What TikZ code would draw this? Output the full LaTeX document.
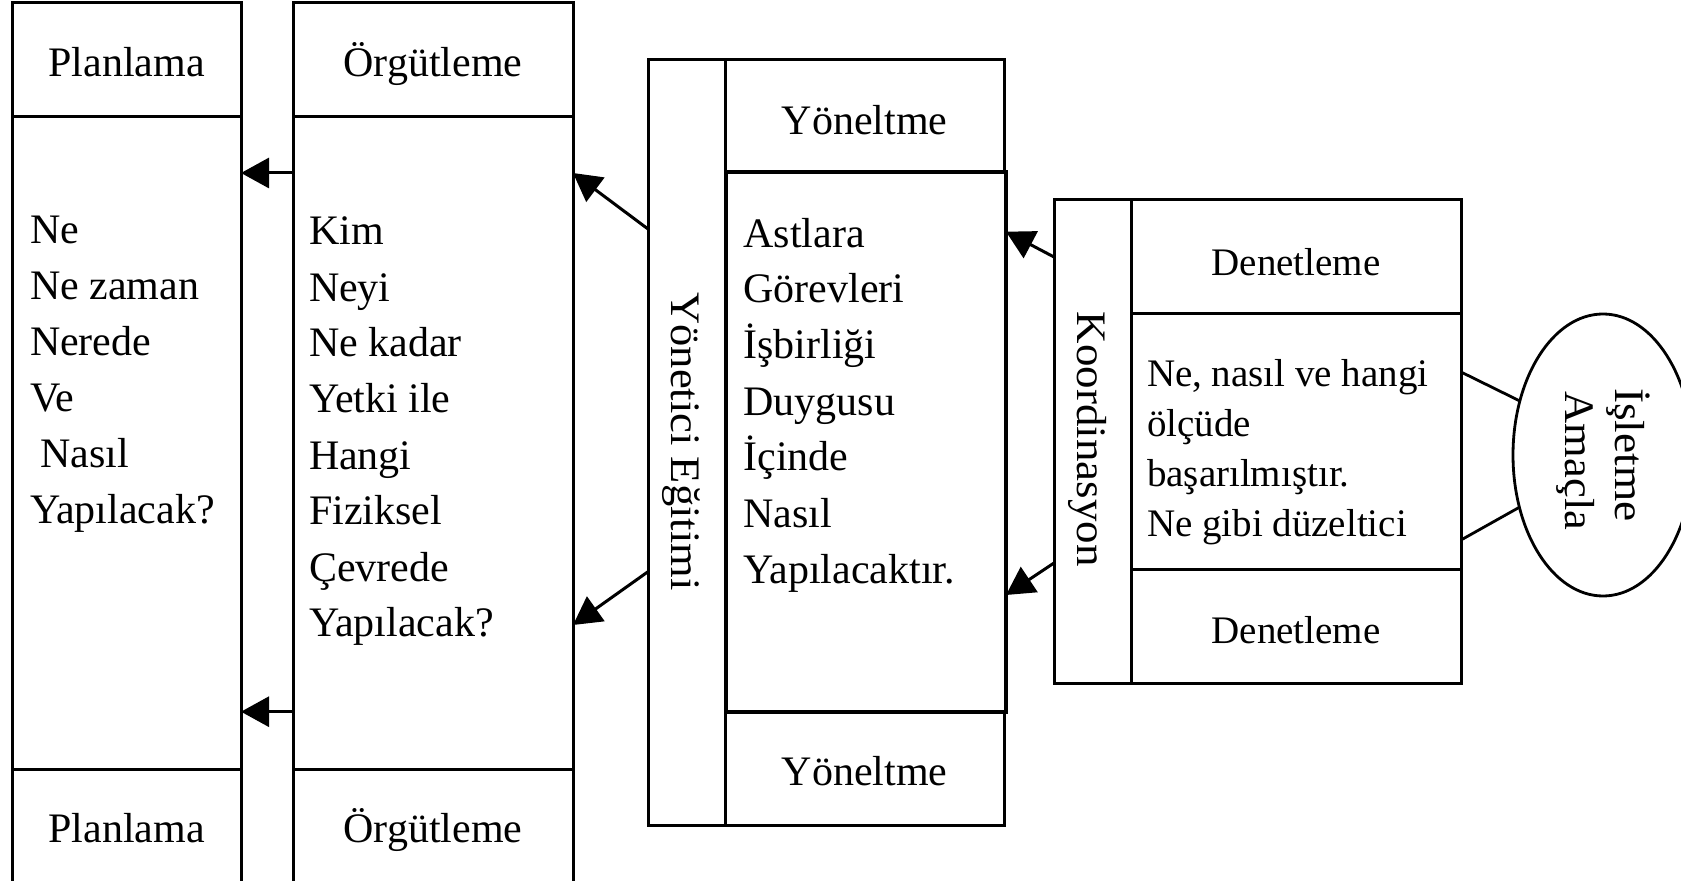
\documentclass[tikz,border=0pt]{standalone}
\usepackage{fontspec}
\usepackage{graphicx}
\setmainfont{Liberation Serif}
\usetikzlibrary{arrows.meta,shapes.geometric}
\begin{document}
\begin{tikzpicture}[x=0.5pt,y=-0.5pt,
  cell/.style={draw, line width=1.5pt, rectangle, inner sep=0pt, outer sep=0pt},
  bigtxt/.style={font=\fontsize{21}{28}\selectfont, inner sep=0pt, outer sep=0pt},
  smalltxt/.style={font=\fontsize{19.5}{25}\selectfont, inner sep=0pt, outer sep=0pt},
  body/.style={align=left, anchor=north west},
  arr/.style={line width=1.5pt, -{Triangle[length=14pt,width=15pt]}},
  link/.style={line width=1.4pt},
]
\useasboundingbox (0,0) rectangle (1681,881);

% Planlama column
\node[cell, minimum width=114.5pt, minimum height=57pt]  (plHead) at (126.5,60)  {};
\node[cell, minimum width=114.5pt, minimum height=326pt] (plBody) at (126.5,443) {};
\node[cell, minimum width=114.5pt, minimum height=68pt]  (plFoot) at (126.5,837) {};

% Orgutleme column
\node[cell, minimum width=140pt, minimum height=57pt]  (orHead) at (433,60)  {};
\node[cell, minimum width=140pt, minimum height=326pt] (orBody) at (433,443) {};
\node[cell, minimum width=140pt, minimum height=68pt]  (orFoot) at (433,837) {};

% Yonetici Egitimi block
\node[cell, minimum width=38.5pt, minimum height=382.5pt] (yonStrip) at (686.5,442.5) {};
\node[cell, minimum width=139.5pt, minimum height=56pt]   (yonHead)  at (864.5,116)   {};
\node[cell, minimum width=139.5pt, minimum height=56.5pt] (yonFoot)  at (864.5,768.5) {};
\node[cell, line width=2pt, minimum width=140pt, minimum height=270pt] (yonBody) at (866,442) {};

% Koordinasyon block
\node[cell, minimum width=38.5pt, minimum height=241.5pt] (koStrip) at (1092.5,441.5) {};
\node[cell, minimum width=165pt, minimum height=57pt]     (koHead)  at (1296,257)     {};
\node[cell, minimum width=165pt, minimum height=128pt]    (koBody)  at (1296,442)     {};
\node[cell, minimum width=165pt, minimum height=56.5pt]   (koFoot)  at (1296,626.5)   {};

% goal ellipse
\node[draw, ellipse, line width=1.4pt, inner sep=0pt, outer sep=0pt,
      minimum width=90pt, minimum height=141pt] (goal) at (1603,455) {};

% headings
\node[bigtxt, anchor=base] (plHeadTxt) at (126.5,77)  {Planlama};
\node[bigtxt, anchor=base] (plFootTxt) at (126.5,842) {Planlama};
\node[bigtxt, anchor=base] (orHeadTxt) at (433,77)    {Örgütleme};
\node[bigtxt, anchor=base] (orFootTxt) at (433,842)   {Örgütleme};
\node[bigtxt, anchor=base] (yonHeadTxt) at (864.5,135) {Yöneltme};
\node[bigtxt, anchor=base] (yonFootTxt) at (864.5,785) {Yöneltme};
\node[smalltxt, anchor=base] (koHeadTxt) at (1296,276) {Denetleme};
\node[smalltxt, anchor=base] (koFootTxt) at (1296,644) {Denetleme};

% body texts
\node[bigtxt, body] (plText) at (30,204.8)
  {\strut Ne\\Ne zaman\\Nerede\\Ve\\\hspace{0.25em}Nasıl\\Yapılacak?};
\node[bigtxt, body] (orText) at (309,205.8)
  {\strut Kim\\Neyi\\Ne kadar\\Yetki ile\\Hangi\\Fiziksel\\Çevrede\\Yapılacak?};
\node[bigtxt, body] (yonText) at (743.5,207.8)
  {\strut Astlara\\Görevleri\\İşbirliği\\Duygusu\\İçinde\\Nasıl\\Yapılacaktır.};
\node[smalltxt, body] (koText) at (1147,352)
  {\strut Ne, nasıl ve hangi\\ölçüde\\başarılmıştır.\\Ne gibi düzeltici};

% vertical labels
\node[bigtxt, rotate=-90, anchor=base] (yonLabel) at (671.7,441.5)
  {\scalebox{1.06}[1]{Yönetici Eğitimi}};
\node[bigtxt, rotate=-90, anchor=base] (koLabel) at (1077.7,439.2)
  {\scalebox{1.07}[1]{Koordinasyon}};
\node[bigtxt, rotate=-90, anchor=base] (goalTxtA) at (1615,455)
  {\scalebox{1.08}[1]{İşletme}};
\node[bigtxt, rotate=-90, anchor=base] (goalTxtB) at (1565,461)
  {\scalebox{1.06}[1]{Amaçla}};

% connectors
\draw[arr] (orBody.west |- 0,173)   -- (plBody.east |- 0,173);
\draw[arr] (orBody.west |- 0,711.7) -- (plBody.east |- 0,711.7);
\draw[arr] (yonStrip.west |- 0,229)   -- (orBody.east |- 0,173);
\draw[arr] (yonStrip.west |- 0,571.7) -- (orBody.east |- 0,625);
\draw[arr] (koStrip.west |- 0,257) -- (yonBody.east |- 0,231.7);
\draw[arr] (koStrip.west |- 0,563) -- (yonBody.east |- 0,595);
\draw[link] (koBody.east |- 0,372) -- (goal.147.7);
\draw[link] (koBody.east |- 0,540) -- (goal.212.3);
\end{tikzpicture}
\end{document}
